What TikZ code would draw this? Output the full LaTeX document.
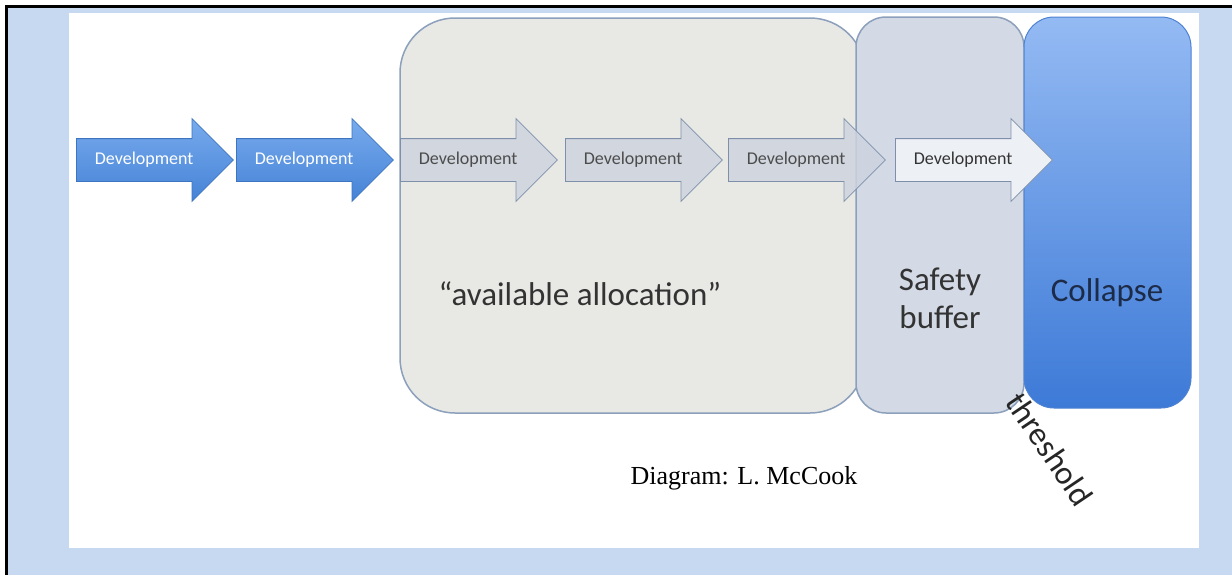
\documentclass[tikz,border=0pt]{standalone}
\usepackage{fontspec}
\setmainfont{Liberation Serif}
\newfontfamily\calibri{Carlito}
\usetikzlibrary{shapes.arrows}

\definecolor{pageblue}{HTML}{C6D9F1}
\definecolor{boxedge}{HTML}{8CA0BC}
\definecolor{allocfill}{HTML}{E8E9E5}
\definecolor{bufferfill}{HTML}{D3DAE6}
\definecolor{collapsetop}{HTML}{94BAF3}
\definecolor{collapsebot}{HTML}{3D7AD7}
\definecolor{collapsetext}{HTML}{1C2B47}
\definecolor{devtop}{HTML}{78ABED}
\definecolor{devbot}{HTML}{4582D6}

\tikzset{
	devarrow/.style={single arrow, single arrow head extend=20pt, minimum height=157pt,
		text height=12pt, text depth=4pt, inner ysep=13pt, inner xsep=4pt, anchor=tail,
		font=\calibri\fontsize{18}{20}\selectfont, line width=0.8pt},
	bluedev/.style={devarrow, top color=devtop, bottom color=devbot, draw=devbot!90!black, text=white},
	greydev/.style={devarrow, fill=black!3!bufferfill, fill opacity=0.85, text opacity=1, draw=boxedge!90!black, text=black!70},
	bigtext/.style={font=\calibri\fontsize{33}{38}\selectfont, align=center}
}

\begin{document}
\begin{tikzpicture}[x=1pt, y=-1pt]
		%%%%% START %%%%%
		
		\useasboundingbox (0, 0) rectangle (1232, 574);
		\clip (0, 0) rectangle (1232, 574);
		\fill[white] (0, 0) rectangle (1232, 574);
		\draw[line width=3pt, fill=pageblue] (6.5, 6.5) rectangle (1245, 590);
		\fill[white] (69, 13) rectangle (1199, 548);
		
		% regions
		\draw[line width=1.5pt, color=boxedge, fill=allocfill, rounded corners=55pt] (400, 18) rectangle (865, 413);
		\draw[line width=1.5pt, color=boxedge, fill=bufferfill, rounded corners=30pt] (856, 17) rectangle (1024, 413);
		\shade[top color=collapsetop, bottom color=collapsebot, rounded corners=30pt] (1024, 17) rectangle (1191, 408);
		\draw[line width=1pt, color=collapsebot!80!boxedge, rounded corners=30pt] (1024, 17) rectangle (1191, 408);
		
		% development steps
		\node[bluedev] (dev1) at (76, 160) {Development};
		\node[bluedev] (dev2) at (236, 160) {Development};
		\node[greydev] (dev3) at (400, 160) {Development};
		\node[greydev] (dev4) at (565, 160) {Development};
		\node[greydev] (dev5) at (728, 160) {Development};
		\node[greydev, fill=bufferfill!40!white, fill opacity=1, text=black!80] (dev6) at (895, 160) {Development};
		
		% labels
		\node[bigtext, text=black!80] (alloc) at (580, 294) {“available allocation”};
		\node[bigtext, text=black!80] (buffer) at (940, 298) {Safety\\buffer};
		\node[bigtext, text=collapsetext] (collapse) at (1107, 293) {Collapse};
		\node[bigtext, rotate=-56, text=black!85] (threshold) at (1050, 449) {threshold};
		
		\node[font=\fontsize{26}{30}\selectfont] (credit) at (744, 478) {Diagram: L. McCook};
		
		%%%%% END %%%%%
	\end{tikzpicture}
\end{document}
